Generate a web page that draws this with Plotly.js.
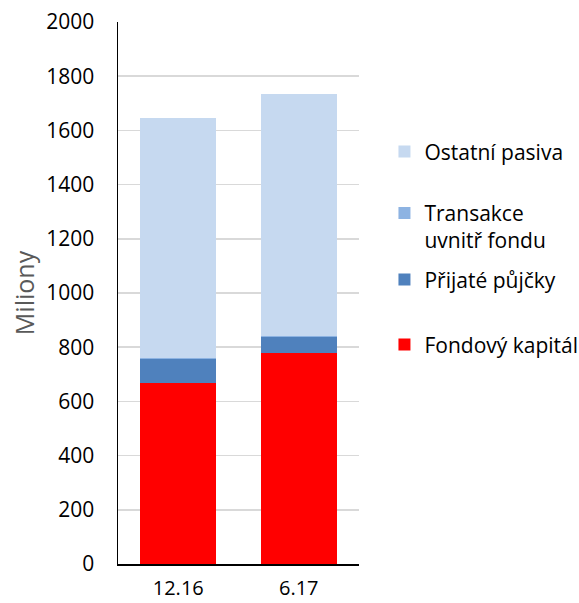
<!DOCTYPE html>
<html>
<head>
<meta charset="utf-8">
<script src="https://cdn.plot.ly/plotly-3.0.1.min.js"></script>
<style>html,body{margin:0;padding:0;background:#fff;}#chart{width:579px;height:603px;}</style>
</head>
<body>
<div id="chart"></div>
<script>
var categories = ["12.16", "6.17"];
var fondovyKapital = [669, 777];
var prijatePujcky = [88, 61];
var transakceUvnitrFondu = [2, 2];
var ostatniPasiva = [887, 896];
var seriesNames = ["Fondový kapitál", "Přijaté půjčky", "Transakce<br>uvnitř fondu", "Ostatní pasiva"];
var seriesColors = ["#ff0000", "#4f81bd", "#8db3e2", "#c6d9f0"];
var seriesValues = [fondovyKapital, prijatePujcky, transakceUvnitrFondu, ostatniPasiva];
var legendIds = ["legend4", "legend3", "legend2", "legend"];
var yTicks = [0, 200, 400, 600, 800, 1000, 1200, 1400, 1600, 1800, 2000];

var FONT = "'Open Sans', Lato, sans-serif";
var traces = seriesValues.map(function (vals, i) {
  return {
    type: "bar",
    x: categories,
    y: vals,
    name: seriesNames[i],
    legend: legendIds[i],
    marker: {color: seriesColors[i], line: {width: 0}},
    hoverinfo: "x+y+name"
  };
});

function leg(y, valign) {
  return {
    xref: "container", yref: "container",
    x: 0.664, xanchor: "left", y: y, yanchor: "middle",
    font: {family: FONT, size: 21, color: "#000"},
    bgcolor: "rgba(0,0,0,0)", borderwidth: 0,
    valign: valign || "middle", itemclick: false
  };
}

var layout = {
  width: 579, height: 603,
  margin: {l: 118, r: 220, t: 22, b: 39, autoexpand: false},
  paper_bgcolor: "#fff", plot_bgcolor: "#fff",
  barmode: "stack",
  bargap: 0.37,
  showlegend: true,
  font: {family: FONT, size: 21, color: "#000"},
  xaxis: {
    type: "category",
    showline: true, linecolor: "#000", linewidth: 1.5,
    ticks: "", ticklabelstandoff: 5,
    tickfont: {family: FONT, size: 20, color: "#000"},
    showgrid: false, zeroline: false, fixedrange: true
  },
  yaxis: {
    range: [0, 2000],
    tickvals: yTicks,
    ticktext: yTicks.map(String),
    showline: true, linecolor: "#000", linewidth: 1.5,
    ticks: "", ticklabelstandoff: 18,
    tickfont: {family: FONT, size: 21, color: "#000"},
    showgrid: true, gridcolor: "#d9d9d9", gridwidth: 1.5,
    zeroline: false, fixedrange: true,
    title: {text: "Miliony", font: {family: FONT, size: 25, color: "#595959"}, standoff: 4}
  },
  legend: leg(0.748),
  legend2: leg(0.624, "top"),
  legend3: leg(0.536),
  legend4: leg(0.428)
};

Plotly.newPlot("chart", traces, layout, {displayModeBar: false, staticPlot: true});
</script>
</body>
</html>
